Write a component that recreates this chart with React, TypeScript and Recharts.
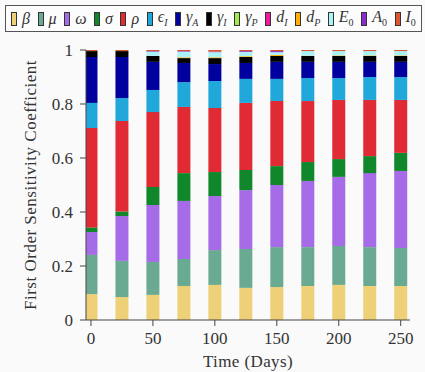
import React from 'react'
import { BarChart, Bar, XAxis, YAxis } from 'recharts'

// time points (days)
const days = [0, 25, 50, 75, 100, 125, 150, 175, 200, 225, 250]

// first order sensitivity per parameter, stacked bottom -> top
const beta = [0.096, 0.085, 0.093, 0.126, 0.130, 0.119, 0.122, 0.126, 0.130, 0.126, 0.126]
const mu = [0.145, 0.134, 0.122, 0.100, 0.129, 0.144, 0.148, 0.144, 0.144, 0.144, 0.141]
const omega = [0.085, 0.166, 0.211, 0.215, 0.200, 0.218, 0.230, 0.245, 0.256, 0.274, 0.285]
const sigma = [0.017, 0.017, 0.067, 0.103, 0.089, 0.075, 0.070, 0.070, 0.066, 0.063, 0.067]
const rho = [0.368, 0.335, 0.277, 0.245, 0.237, 0.248, 0.241, 0.226, 0.219, 0.208, 0.196]
const epsI = [0.093, 0.085, 0.082, 0.092, 0.100, 0.089, 0.082, 0.085, 0.081, 0.085, 0.085]
const gammaA = [0.170, 0.152, 0.104, 0.071, 0.063, 0.059, 0.063, 0.060, 0.060, 0.056, 0.056]
const gammaI = [0.022, 0.022, 0.022, 0.018, 0.022, 0.022, 0.022, 0.022, 0.022, 0.022, 0.022]
const gammaP = [0, 0, 0, 0, 0, 0, 0, 0, 0, 0, 0]
const dI = [0, 0, 0, 0, 0, 0, 0, 0, 0, 0, 0]
const dP = [0, 0, 0, 0.003, 0.003, 0.003, 0.004, 0.001, 0.002, 0.002, 0.002]
const E0 = [0, 0, 0.016, 0.021, 0.019, 0.016, 0.010, 0.017, 0.016, 0.016, 0.016]
const A0 = [0, 0, 0.002, 0.002, 0.002, 0.003, 0.004, 0, 0, 0, 0]
const I0 = [0.004, 0.004, 0.004, 0.004, 0.006, 0.004, 0.004, 0.004, 0.004, 0.004, 0.004]

const yTicks = [0, 0.2, 0.4, 0.6, 0.8, 1]
const xTicks = [0, 50, 100, 150, 200, 250]

const series = [
  { key: 'beta', values: beta, color: '#EDD077', sym: 'β', sub: '' },
  { key: 'mu', values: mu, color: '#6BAA92', sym: 'μ', sub: '' },
  { key: 'omega', values: omega, color: '#A66BE6', sym: 'ω', sub: '' },
  { key: 'sigma', values: sigma, color: '#10872B', sym: 'σ', sub: '' },
  { key: 'rho', values: rho, color: '#E02B35', sym: 'ρ', sub: '' },
  { key: 'epsI', values: epsI, color: '#20A8DB', sym: 'ϵ', sub: 'I' },
  { key: 'gammaA', values: gammaA, color: '#00009E', sym: 'γ', sub: 'A' },
  { key: 'gammaI', values: gammaI, color: '#000000', sym: 'γ', sub: 'I' },
  { key: 'gammaP', values: gammaP, color: '#A5E84F', sym: 'γ', sub: 'P' },
  { key: 'dI', values: dI, color: '#F0199F', sym: 'd', sub: 'I' },
  { key: 'dP', values: dP, color: '#FFB000', sym: 'd', sub: 'P' },
  { key: 'E0', values: E0, color: '#A8F2F8', sym: 'E', sub: '0' },
  { key: 'A0', values: A0, color: '#8B2BD1', sym: 'A', sub: '0' },
  { key: 'I0', values: I0, color: '#DA5730', sym: 'I', sub: '0' },
]

const data = days.map((d, i) => {
  const row: Record<string, number> = { day: d }
  series.forEach(s => { row[s.key] = s.values[i] })
  return row
})

const font = '"Liberation Serif", "DejaVu Serif", serif'
const axisColor = '#444'
const textColor = '#333'

function LegendBox() {
  return (
    <div style={{
      position: 'absolute', left: 5, top: 5, width: 417, height: 27,
      border: '1.5px solid #555', background: '#fcfcfc',
      display: 'flex', alignItems: 'center', justifyContent: 'space-between',
      paddingLeft: 5, paddingRight: 5, boxSizing: 'border-box', overflow: 'hidden',
      fontFamily: font, fontSize: 16, color: textColor,
    }}>
      {series.map(s => (
        <div key={s.key} style={{ display: 'flex', alignItems: 'center' }}>
          <span style={{ display: 'inline-block', width: 4, height: 12, background: s.color, border: '1px solid #333', marginRight: 5 }} />
          <span style={{ fontStyle: 'italic', lineHeight: 1 }}>
            {s.sym}
            {s.sub && <sub style={{ fontSize: 10, fontStyle: s.sub === '0' ? 'normal' : 'italic' }}>{s.sub}</sub>}
          </span>
        </div>
      ))}
    </div>
  )
}

export default function App() {
  return (
    <div style={{ position: 'absolute', left: 0, top: 0, width: 425, height: 372, background: '#fafafa', overflow: 'visible' }}>
      <BarChart width={425} height={372} data={data} margin={{ top: 50, right: 15, left: 30, bottom: 22 }} style={{ overflow: 'visible' }}>
        <XAxis
          dataKey="day" type="number" domain={[-4, 257.5]} ticks={xTicks} allowDataOverflow
          tickSize={6} tickMargin={6} stroke={axisColor}
          tick={{ fill: textColor, fontFamily: font, fontSize: 17 }}
          height={30}
          label={{ value: 'Time (Days)', position: 'bottom', offset: 5, fill: textColor, fontFamily: font, fontSize: 17, letterSpacing: 0.4 }}
        />
        <XAxis xAxisId="top" dataKey="day" type="number" domain={[-4, 257.5]} orientation="top" height={0} tick={false} tickLine={false} stroke={axisColor} />
        <YAxis
          domain={[0, 1]} ticks={yTicks} tickSize={6} tickMargin={7} stroke={axisColor} width={56}
          tick={{ fill: textColor, fontFamily: font, fontSize: 17 }}
          label={{ value: 'First Order Sensitivity Coefficient', angle: -90, position: 'insideLeft', offset: 0, style: { textAnchor: 'middle' }, fill: textColor, fontFamily: font, fontSize: 17, letterSpacing: 0.5 }}
        />
        <YAxis yAxisId="right" orientation="right" domain={[0, 1]} width={0} tick={false} tickLine={false} stroke={axisColor} />
        {series.map(s => (
          <Bar key={s.key} dataKey={s.key} stackId="a" fill={s.color} barSize={13} isAnimationActive={false} />
        ))}
      </BarChart>
      <LegendBox />
    </div>
  )
}
